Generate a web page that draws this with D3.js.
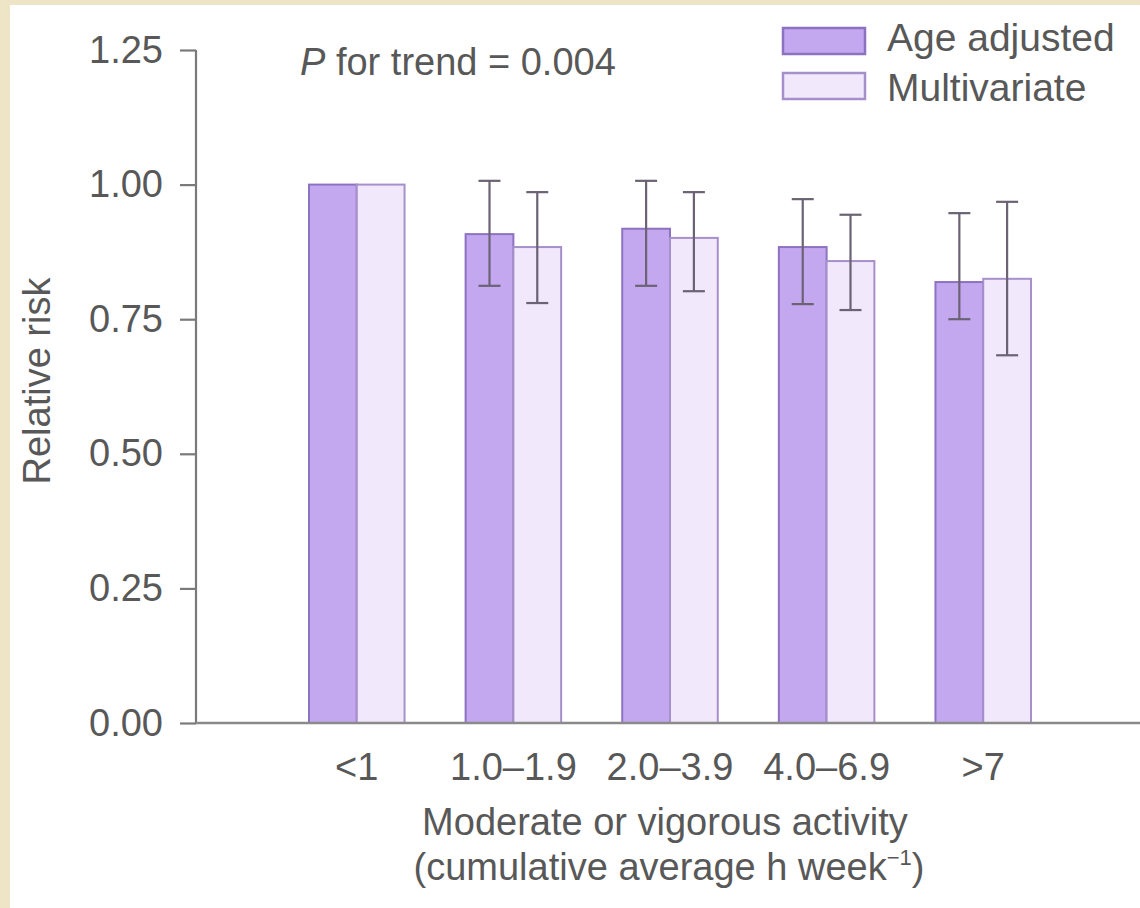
<!DOCTYPE html>
<html>
<head>
<meta charset="utf-8">
<script src="https://cdn.jsdelivr.net/npm/d3@7"></script>
<style>
  html, body { margin: 0; padding: 0; background: #EEE5C7; }
  svg { display: block; }
  text { font-family: "Liberation Sans", Arial, Helvetica, sans-serif; fill: #585858; }
</style>
</head>
<body>
<script>
// ---- data ----
const categories = ["<1", "1.0\u20131.9", "2.0\u20133.9", "4.0\u20136.9", ">7"];
const seriesNames = ["Age adjusted", "Multivariate"];
const ageAdjusted = [1.00, 0.908, 0.918, 0.884, 0.819];
const ageAdjustedLow = [null, 0.812, 0.812, 0.778, 0.750];
const ageAdjustedHigh = [null, 1.007, 1.007, 0.973, 0.947];
const multivariate = [1.00, 0.884, 0.901, 0.858, 0.825];
const multivariateLow = [null, 0.780, 0.802, 0.767, 0.683];
const multivariateHigh = [null, 0.986, 0.986, 0.944, 0.968];
const yTicks = [0, 0.25, 0.5, 0.75, 1.0, 1.25];
const annotation = "for trend = 0.004";

// ---- layout ----
const W = 1140, H = 908;
const svg = d3.select("body").append("svg").attr("width", W).attr("height", H);
svg.append("rect").attr("x", 10).attr("y", 5).attr("width", W - 10).attr("height", H - 5).attr("fill", "#ffffff");

const axisX = 196, baseY = 723, topY = 50;
const y = d3.scaleLinear().domain([0, 1.25]).range([baseY, topY]);
const x0 = d3.scaleBand().domain(categories).range([309, 1031]).paddingInner(0.39).paddingOuter(0);
const x1 = d3.scaleBand().domain(seriesNames).range([0, x0.bandwidth()]).padding(0);

const fills = ["#C3A8F0", "#F1E8FB"];
const strokes = ["#8E72C2", "#A690CC"];
const fontSize = 38;

// data rows
const rows = categories.map((c, i) => ({
  cat: c,
  vals: [
    {s: seriesNames[0], v: ageAdjusted[i], lo: ageAdjustedLow[i], hi: ageAdjustedHigh[i], k: 0},
    {s: seriesNames[1], v: multivariate[i], lo: multivariateLow[i], hi: multivariateHigh[i], k: 1}
  ]
}));

// bars
const g = svg.append("g");
const groups = g.selectAll("g.grp").data(rows).join("g")
  .attr("transform", d => `translate(${x0(d.cat)},0)`);
groups.selectAll("rect").data(d => d.vals).join("rect")
  .attr("x", d => x1(d.s))
  .attr("y", d => y(d.v))
  .attr("width", x1.bandwidth())
  .attr("height", d => y(0) - y(d.v))
  .attr("fill", d => fills[d.k])
  .attr("stroke", d => strokes[d.k])
  .attr("stroke-width", 2);

// error bars
const capW = 22;
const eb = groups.selectAll("g.eb").data(d => d.vals.filter(v => v.lo != null)).join("g").attr("class", "eb");
eb.append("line")
  .attr("x1", d => x1(d.s) + x1.bandwidth() / 2).attr("x2", d => x1(d.s) + x1.bandwidth() / 2)
  .attr("y1", d => y(d.hi)).attr("y2", d => y(d.lo))
  .attr("stroke", "#6b6274").attr("stroke-width", 2.2);
["hi", "lo"].forEach(key => {
  eb.append("line")
    .attr("x1", d => x1(d.s) + x1.bandwidth() / 2 - capW / 2)
    .attr("x2", d => x1(d.s) + x1.bandwidth() / 2 + capW / 2)
    .attr("y1", d => y(d[key])).attr("y2", d => y(d[key]))
    .attr("stroke", "#6b6274").attr("stroke-width", 2.2);
});

// y axis
const yAxis = d3.axisLeft(y).tickValues(yTicks).tickFormat(d3.format(".2f")).tickSize(16).tickPadding(17);
const ya = svg.append("g").attr("transform", `translate(${axisX},0)`).call(yAxis);
ya.select(".domain").attr("d", `M0,${topY}V${baseY}`).attr("stroke", "#7a7a7a").attr("stroke-width", 2.2);
ya.selectAll(".tick line").attr("stroke", "#7a7a7a").attr("stroke-width", 2.2);
ya.selectAll(".tick text").attr("font-size", fontSize).attr("fill", "#5f5f5f")
  .attr("font-family", "Liberation Sans, Arial, sans-serif");

// x axis baseline
const xAxis = d3.axisBottom(x0).tickSize(0).tickPadding(30);
const xa = svg.append("g").attr("transform", `translate(0,${baseY})`).call(xAxis);
xa.select(".domain").attr("d", `M${axisX},0H${W}`).attr("stroke", "#8a8a8a").attr("stroke-width", 2.5);
xa.selectAll(".tick text").attr("font-size", fontSize).attr("fill", "#5f5f5f")
  .attr("font-family", "Liberation Sans, Arial, sans-serif");

// axis titles
svg.append("text").attr("transform", "translate(50,381) rotate(-90)")
  .attr("text-anchor", "middle").attr("font-size", fontSize).text("Relative risk");
svg.append("text").attr("x", 665).attr("y", 835).attr("text-anchor", "middle")
  .attr("font-size", fontSize).text("Moderate or vigorous activity");
const t2 = svg.append("text").attr("x", 669).attr("y", 880).attr("text-anchor", "middle").attr("font-size", fontSize);
t2.append("tspan").text("(cumulative average h week");
t2.append("tspan").attr("font-size", 22).attr("dy", -15).text("\u22121");
t2.append("tspan").attr("dy", 15).text(")");

// annotation
const ann = svg.append("text").attr("x", 300).attr("y", 75).attr("font-size", fontSize);
ann.append("tspan").attr("font-style", "italic").text("P");
ann.append("tspan").text(" " + annotation);

// legend
const leg = svg.append("g");
seriesNames.forEach((s, i) => {
  leg.append("rect").attr("x", 783).attr("y", 28 + i * 45).attr("width", 82).attr("height", 26)
    .attr("fill", fills[i]).attr("stroke", strokes[i]).attr("stroke-width", 2.5);
  leg.append("text").attr("x", 887).attr("y", 51 + i * 50).attr("font-size", 39).text(s);
});
</script>
</body>
</html>
